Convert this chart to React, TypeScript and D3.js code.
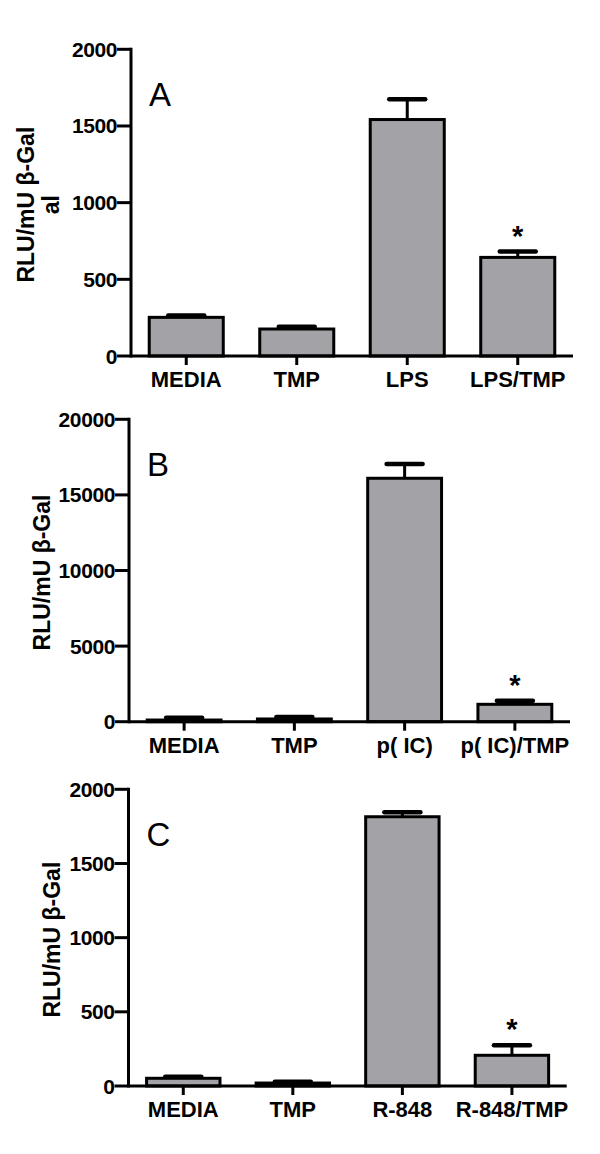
import React from "react";
import * as d3 from "d3";

const categoriesA = ["MEDIA", "TMP", "LPS", "LPS/TMP"];
const valuesA = [252, 176, 1542, 643];
const errorsA = [12, 15, 132, 38];
const ticksA = [0, 500, 1000, 1500, 2000];

const categoriesB = ["MEDIA", "TMP", "p( IC)", "p( IC)/TMP"];
const valuesB = [110, 180, 16100, 1150];
const errorsB = [150, 130, 950, 240];
const ticksB = [0, 5000, 10000, 15000, 20000];

const categoriesC = ["MEDIA", "TMP", "R-848", "R-848/TMP"];
const valuesC = [52, 20, 1815, 207];
const errorsC = [10, 8, 30, 67];
const ticksC = [0, 500, 1000, 1500, 2000];

const starA = [false, false, false, true];
const starB = [false, false, false, true];
const starC = [false, false, false, true];

type PanelProps = {
  letter: string;
  cats: string[];
  vals: number[];
  errs: number[];
  ticks: number[];
  stars: boolean[];
  axisX: number;
  xEnd: number;
  y0: number;
  yTop: number;
  yMax: number;
  labelX: number;
  labelLines: string[];
};

const FILL = "#a2a2a7";
const FONT = "'Liberation Sans', Arial, Helvetica, sans-serif";

function Panel(p: PanelProps) {
  const x = d3
    .scaleBand<string>()
    .domain(p.cats)
    .range([p.axisX, p.xEnd])
    .paddingInner(0.33)
    .paddingOuter(0.165);
  const y = d3.scaleLinear().domain([0, p.yMax]).range([p.y0, p.yTop]);
  const bw = x.bandwidth();
  const labelCenterY = (p.y0 + p.yTop) / 2 + 2;
  return (
    <g>
      {p.cats.map((c, i) => {
        const bx = x(c)!;
        const cx = bx + bw / 2;
        const top = y(p.vals[i]);
        const capY = y(p.vals[i] + p.errs[i]);
        return (
          <g key={c}>
            <line x1={cx} x2={cx} y1={top} y2={capY} stroke="#000" strokeWidth={3} />
            <line
              x1={cx - 18}
              x2={cx + 18}
              y1={capY}
              y2={capY}
              stroke="#000"
              strokeWidth={4.5}
              strokeLinecap="round"
            />
            <rect
              x={bx}
              y={top}
              width={bw}
              height={p.y0 - top}
              fill={FILL}
              stroke="#000"
              strokeWidth={3}
            />
            {p.stars[i] && (
              <text
                x={cx}
                y={capY - 21 + 15}
                textAnchor="middle"
                fontFamily={FONT}
                fontWeight="bold"
                fontSize={29}
              >
                *
              </text>
            )}
            <line x1={cx} x2={cx} y1={p.y0} y2={p.y0 + 9} stroke="#000" strokeWidth={3} />
            <text
              x={cx}
              y={p.y0 + 31}
              textAnchor="middle"
              fontFamily={FONT}
              fontWeight="bold"
              fontSize={22}
            >
              {c}
            </text>
          </g>
        );
      })}
      <line x1={p.axisX} x2={p.axisX} y1={p.yTop - 1.5} y2={p.y0 + 1.5} stroke="#000" strokeWidth={3} />
      <line x1={p.axisX} x2={p.xEnd} y1={p.y0} y2={p.y0} stroke="#000" strokeWidth={3} />
      {p.ticks.map((t) => (
        <g key={t}>
          <line x1={p.axisX - 14} x2={p.axisX} y1={y(t)} y2={y(t)} stroke="#000" strokeWidth={3} />
          <text
            x={p.axisX - 14}
            y={y(t) + 7.5}
            textAnchor="end"
            fontFamily={FONT}
            fontWeight="bold"
            fontSize={21}
            letterSpacing={-0.4}
          >
            {t}
          </text>
        </g>
      ))}
      <text x={p.axisX + 18} y={p.yTop + 57} fontFamily={FONT} fontSize={33}>
        {p.letter}
      </text>
      <text
        transform={`translate(${p.labelX},${labelCenterY}) rotate(-90)`}
        textAnchor="middle"
        fontFamily={FONT}
        fontWeight="bold"
        fontSize={23}
      >
        {p.labelLines.map((l, i) => (
          <tspan key={i} x={0} dy={i === 0 ? 0 : 25}>
            {l}
          </tspan>
        ))}
      </text>
    </g>
  );
}

export default function App() {
  return (
    <svg
      width={600}
      height={1154}
      style={{ position: "absolute", left: 0, top: 0, background: "#fff" }}
    >
      <rect width={600} height={1154} fill="#fff" />
      <Panel
        letter="A"
        cats={categoriesA}
        vals={valuesA}
        errs={errorsA}
        ticks={ticksA}
        stars={starA}
        axisX={131}
        xEnd={573}
        y0={356}
        yTop={49.3}
        yMax={2000}
        labelX={34}
        labelLines={["RLU/mU β-Gal", "al"]}
      />
      <Panel
        letter="B"
        cats={categoriesB}
        vals={valuesB}
        errs={errorsB}
        ticks={ticksB}
        stars={starB}
        axisX={129}
        xEnd={570}
        y0={721.7}
        yTop={419.3}
        yMax={20000}
        labelX={50}
        labelLines={["RLU/mU β-Gal"]}
      />
      <Panel
        letter="C"
        cats={categoriesC}
        vals={valuesC}
        errs={errorsC}
        ticks={ticksC}
        stars={starC}
        axisX={128.5}
        xEnd={566.7}
        y0={1086}
        yTop={789.3}
        yMax={2000}
        labelX={60}
        labelLines={["RLU/mU β-Gal"]}
      />
    </svg>
  );
}
